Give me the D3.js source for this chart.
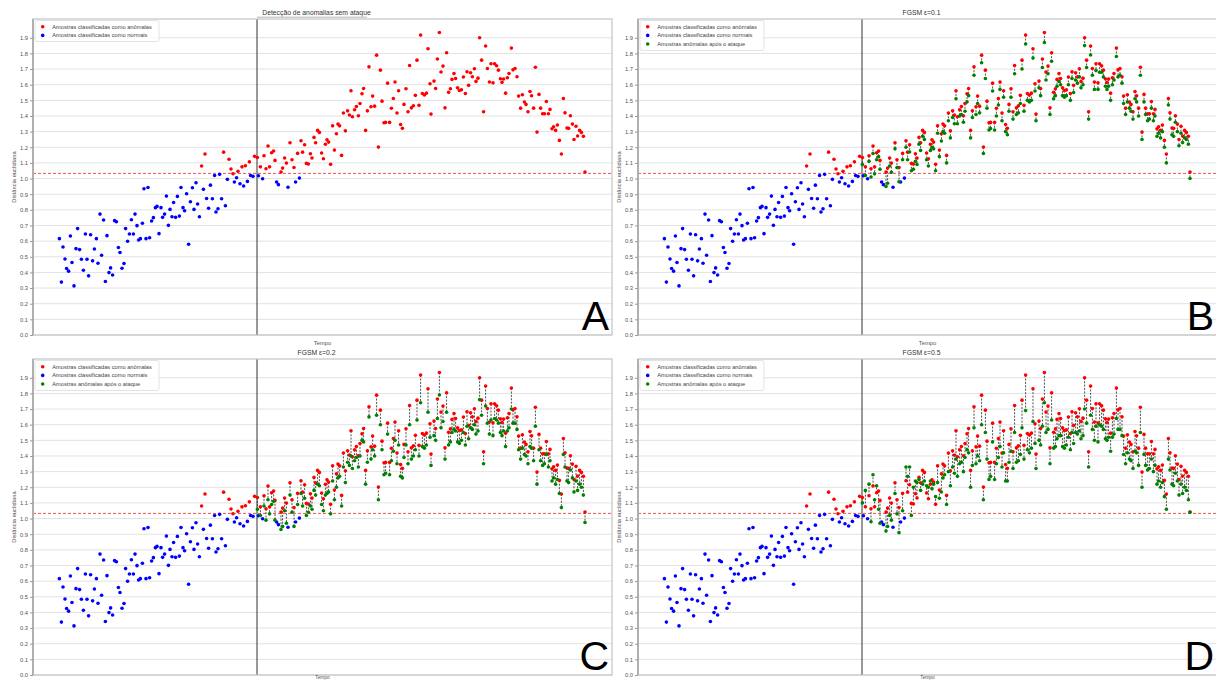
<!DOCTYPE html>
<html>
<head>
<meta charset="utf-8">
<script src="https://cdn.jsdelivr.net/npm/d3@7"></script>
<style>
  body { margin: 0; background: #fff; }
  svg { display: block; }
  text { font-family: "Liberation Sans", Arial, sans-serif; }
</style>
</head>
<body>
<svg id="chart" width="1216" height="680"></svg>
<script>
// ---- data: [tempo, distância euclidiana] ----
// samples the detector flags as normal
const normalSamples = [
  [13.2,0.616],[14.2,0.338],[15.0,0.563],[16.0,0.486],[16.8,0.425],[17.8,0.408],[18.7,0.633],[19.5,0.463],
  [20.5,0.314],[21.5,0.552],[22.3,0.680],[23.3,0.546],[24.2,0.484],[25.2,0.414],[26.2,0.646],[27.0,0.484],
  [27.8,0.378],[28.8,0.641],[29.8,0.474],[30.7,0.550],[31.7,0.616],[32.5,0.459],[33.5,0.773],[34.3,0.510],
  [35.3,0.735],[36.2,0.342],[37.0,0.635],[38.0,0.399],[38.8,0.429],[39.8,0.384],[40.8,0.731],[41.7,0.724],
  [42.7,0.559],[43.5,0.527],[44.5,0.427],[45.5,0.457],[46.3,0.680],[47.3,0.599],[48.2,0.646],[49.2,0.737],
  [50.2,0.646],[51.0,0.773],[52.0,0.699],[52.8,0.607],[53.7,0.616],[54.7,0.714],[55.5,0.935],[56.5,0.616],
  [57.5,0.943],[58.3,0.622],[59.3,0.729],[60.2,0.750],[61.2,0.814],[62.0,0.822],[63.0,0.648],[64.0,0.814],
  [64.8,0.752],[65.8,0.773],[66.7,0.888],[67.7,0.701],[68.5,0.803],[69.5,0.756],[70.3,0.847],[71.3,0.752],
  [72.2,0.886],[73.2,0.760],[74.0,0.943],[75.0,0.814],[75.8,0.794],[76.8,0.903],[77.8,0.580],[78.7,0.852],
  [79.7,0.941],[80.5,0.803],[81.5,0.973],[82.3,0.837],[83.2,0.756],[85.2,0.931],[86.8,0.873],[87.8,0.810],
  [88.7,0.958],[89.7,0.871],[90.8,1.020],[91.5,0.786],[92.5,0.807],[93.3,1.027],[94.3,0.871],[96.2,0.826],
  [97.2,0.995],[100.7,0.978],[101.8,1.005],[103.5,0.967],[105.3,0.952],[107.2,0.982],[108.8,1.020],[110.0,1.014],
  [112.7,1.018],[114.8,0.999],[121.8,0.978],[122.7,0.961],[127.5,0.944],[131.3,0.978],[133.2,1.003]
];

// samples the detector flags as anomalous
const anomalousSamples = [
  [84.3,1.080],[86.0,1.157],[95.3,1.169],[98.0,1.123],[99.0,1.061],[100.0,1.031],[102.5,1.046],[104.5,1.075],
  [106.2,1.082],[108.2,1.107],[110.8,1.142],[112.2,1.135],[113.7,1.075],[115.5,1.146],[116.5,1.063],[117.5,1.208],
  [118.3,1.075],[119.3,1.165],[120.3,1.176],[121.0,1.116],[124.0,1.042],[124.8,1.067],[125.8,1.131],[126.7,1.099],
  [128.5,1.229],[129.5,1.120],[130.5,1.071],[132.3,1.161],[134.0,1.242],[134.8,1.169],[135.8,1.216],[136.7,1.097],
  [137.7,1.093],[138.7,1.159],[139.5,1.131],[140.5,1.263],[141.3,1.229],[142.3,1.308],[143.2,1.295],[144.3,1.163],
  [145.2,1.127],[146.2,1.219],[147.0,1.248],[147.8,1.233],[148.8,1.091],[149.8,1.337],[150.7,1.182],[151.7,1.286],
  [152.5,1.348],[153.3,1.337],[154.3,1.148],[155.2,1.419],[156.2,1.305],[157.3,1.433],[158.2,1.406],[159.0,1.561],
  [159.7,1.395],[160.8,1.440],[161.7,1.461],[162.7,1.402],[163.5,1.480],[164.5,1.542],[165.3,1.576],[166.3,1.308],
  [167.2,1.433],[168.0,1.714],[169.0,1.459],[169.8,1.527],[170.8,1.463],[171.8,1.789],[172.7,1.201],[173.7,1.693],
  [174.5,1.495],[175.5,1.357],[176.3,1.359],[177.3,1.610],[178.3,1.359],[179.2,1.449],[180.2,1.512],[181.0,1.617],
  [182.0,1.419],[182.8,1.561],[183.8,1.346],[184.7,1.321],[185.5,1.474],[186.5,1.574],[187.5,1.427],[188.3,1.723],
  [189.2,1.452],[190.2,1.465],[191.2,1.532],[192.0,1.757],[193.0,1.468],[193.8,1.917],[194.7,1.544],[195.7,1.534],
  [196.7,1.546],[197.5,1.830],[198.5,1.606],[199.0,1.412],[200.5,1.623],[201.3,1.576],[202.2,1.764],[203.2,1.934],
  [204.0,1.681],[205.0,1.719],[206.0,1.452],[206.8,1.804],[207.8,1.551],[208.7,1.574],[209.5,1.634],[210.5,1.672],
  [211.3,1.640],[212.3,1.580],[213.2,1.563],[214.2,1.568],[215.2,1.649],[216.2,1.544],[217.0,1.683],[217.8,1.596],
  [218.8,1.676],[219.7,1.651],[220.7,1.702],[221.5,1.621],[222.5,1.642],[223.3,1.900],[224.3,1.757],[225.3,1.427],
  [226.3,1.847],[227.2,1.704],[228.2,1.617],[229.0,1.734],[230.0,1.612],[230.8,1.734],[231.8,1.721],[232.7,1.693],
  [233.7,1.638],[234.5,1.615],[235.3,1.636],[236.3,1.546],[237.2,1.644],[238.0,1.672],[239.2,1.834],[240.0,1.695],
  [241.0,1.704],[242.0,1.651],[242.8,1.527],[243.8,1.450],[244.7,1.536],[245.7,1.489],[246.5,1.474],[247.5,1.427],
  [248.5,1.557],[249.3,1.529],[250.3,1.450],[251.2,1.712],[252.0,1.297],[253.0,1.538],[253.8,1.450],[254.8,1.414],
  [255.7,1.414],[256.7,1.493],[257.7,1.414],[258.5,1.442],[259.5,1.318],[260.3,1.331],[261.3,1.308],[262.2,1.342],
  [263.2,1.244],[264.2,1.157],[265.2,1.512],[266.0,1.420],[267.0,1.323],[267.8,1.321],[268.7,1.402],[269.7,1.348],
  [270.5,1.250],[271.5,1.334],[272.3,1.272],[273.3,1.308],[274.2,1.295],[275.2,1.270],[276.0,1.042]
];

// distance of each anomalous sample in the attacked window (tempo > attackStart),
// in the same order, after the FGSM attack with each epsilon
const attackedEps01 = [
  1.09,1.02,1.11,1.01,1.16,1.03,1.12,1.14,1.06,0.95,0.97,1.08,1.04,1.19,1.07,0.98,1.12,1.20,1.12,1.17,
  1.05,1.06,1.11,1.09,1.22,1.18,1.27,1.25,1.12,1.08,1.18,1.20,1.19,1.05,1.29,1.14,1.24,1.30,1.29,1.10,
  1.37,1.26,1.39,1.35,1.51,1.35,1.40,1.41,1.36,1.43,1.49,1.53,1.26,1.39,1.66,1.41,1.48,1.42,1.74,1.16,
  1.64,1.45,1.31,1.32,1.56,1.31,1.40,1.47,1.57,1.37,1.52,1.30,1.28,1.43,1.52,1.38,1.67,1.41,1.42,1.48,
  1.70,1.43,1.86,1.50,1.49,1.50,1.77,1.56,1.37,1.58,1.53,1.71,1.87,1.63,1.67,1.41,1.75,1.51,1.53,1.59,
  1.62,1.60,1.53,1.52,1.53,1.60,1.50,1.64,1.55,1.63,1.61,1.65,1.58,1.60,1.85,1.71,1.38,1.79,1.66,1.57,
  1.69,1.57,1.68,1.68,1.65,1.59,1.57,1.59,1.50,1.60,1.63,1.78,1.65,1.66,1.61,1.48,1.41,1.49,1.45,1.43,
  1.38,1.51,1.49,1.40,1.66,1.25,1.49,1.41,1.37,1.38,1.45,1.37,1.40,1.27,1.29,1.26,1.30,1.20,1.10,1.47,
  1.38,1.28,1.27,1.36,1.30,1.21,1.29,1.23,1.26,1.25,1.22,1.00
];
const attackedEps02 = [
  1.06,1.02,1.08,0.99,1.12,1.03,1.09,1.11,0.99,0.93,0.95,1.05,0.97,1.15,1.04,0.95,1.09,1.16,1.08,1.13,
  1.02,1.04,1.08,1.06,1.18,1.15,1.22,1.21,1.09,1.05,1.15,1.16,1.17,1.03,1.24,1.12,1.20,1.26,1.27,1.08,
  1.33,1.23,1.36,1.34,1.40,1.32,1.37,1.39,1.33,1.40,1.50,1.49,1.22,1.36,1.65,1.38,1.44,1.40,1.66,1.12,
  1.60,1.44,1.28,1.29,1.54,1.28,1.37,1.43,1.50,1.35,1.47,1.27,1.26,1.39,1.47,1.35,1.60,1.38,1.40,1.44,
  1.63,1.40,1.74,1.46,1.45,1.47,1.68,1.52,1.34,1.53,1.50,1.64,1.79,1.58,1.62,1.38,1.68,1.47,1.49,1.55,
  1.57,1.56,1.49,1.48,1.50,1.55,1.47,1.59,1.51,1.58,1.57,1.60,1.54,1.56,1.76,1.66,1.35,1.72,1.61,1.54,
  1.63,1.53,1.64,1.63,1.61,1.55,1.53,1.56,1.46,1.56,1.58,1.70,1.61,1.61,1.57,1.44,1.38,1.45,1.41,1.40,
  1.35,1.46,1.45,1.37,1.59,1.22,1.44,1.37,1.34,1.35,1.41,1.33,1.37,1.24,1.26,1.22,1.25,1.16,1.07,1.41,
  1.33,1.24,1.23,1.31,1.26,1.17,1.24,1.18,1.22,1.20,1.15,0.975
];
const attackedEps05 = [
  1.10,1.18,1.22,0.98,1.28,1.12,1.21,1.06,0.97,0.92,0.95,1.02,0.99,1.16,1.03,0.91,1.05,1.33,1.27,1.33,
  1.02,1.20,1.24,1.23,1.25,1.18,1.22,1.24,1.21,1.20,1.24,1.19,1.22,1.14,1.23,1.13,1.17,1.26,1.28,1.09,
  1.30,1.21,1.33,1.29,1.38,1.27,1.35,1.36,1.30,1.39,1.44,1.42,1.20,1.34,1.58,1.35,1.40,1.37,1.60,1.12,
  1.55,1.38,1.25,1.27,1.49,1.25,1.35,1.39,1.46,1.33,1.42,1.24,1.24,1.36,1.43,1.32,1.55,1.36,1.37,1.41,
  1.58,1.38,1.69,1.44,1.42,1.45,1.62,1.48,1.32,1.50,1.47,1.59,1.74,1.55,1.57,1.35,1.63,1.45,1.46,1.51,
  1.53,1.53,1.46,1.45,1.47,1.52,1.44,1.55,1.48,1.55,1.54,1.56,1.51,1.53,1.70,1.61,1.33,1.66,1.57,1.50,
  1.59,1.49,1.60,1.59,1.57,1.51,1.50,1.52,1.43,1.52,1.54,1.64,1.57,1.57,1.53,1.41,1.35,1.42,1.38,1.37,
  1.32,1.43,1.42,1.34,1.55,1.20,1.41,1.34,1.31,1.32,1.38,1.30,1.34,1.22,1.24,1.20,1.23,1.14,1.06,1.38,
  1.31,1.22,1.21,1.29,1.24,1.15,1.22,1.16,1.20,1.18,1.12,1.04
];

const panelTitles = ["Detecção de anomalias sem ataque", "FGSM ε=0.1", "FGSM ε=0.2", "FGSM ε=0.5"];
const panelLetters = ["A", "B", "C", "D"];
const legendLabels = [
  "Amostras classificadas como anômalas",
  "Amostras classificadas como normais",
  "Amostras anômalas após o ataque"
];
const yTickValues = [0.0,0.1,0.2,0.3,0.4,0.5,0.6,0.7,0.8,0.9,1.0,1.1,1.2,1.3,1.4,1.5,1.6,1.7,1.8,1.9];
const tempoDomain = [0, 289.5];
const distanceDomain = [0, 2.02];
const attackStart = 112;     // start of the attacked window
const threshold = 1.033;     // detection threshold
const xLabel = "Tempo";
const yLabel = "Distância euclidiana";

// ---- layout ----
const W = 579, H = 316;
const panels = [
  { left: 33,  top: 19,  attacked: null,          xLabelY: H + 10,  xLabelSize: 5.8 },
  { left: 638, top: 19,  attacked: attackedEps01, xLabelY: H + 10,  xLabelSize: 5.8 },
  { left: 33,  top: 359, attacked: attackedEps02, xLabelY: H + 3.6, xLabelSize: 4.8 },
  { left: 638, top: 359, attacked: attackedEps05, xLabelY: H + 3.6, xLabelSize: 4.8 }
];
const RED = "#ff0000", BLUE = "#0000ff", GREEN = "#008000";

const svg = d3.select("#chart");
const x = d3.scaleLinear().domain(tempoDomain).range([0, W]);
const y = d3.scaleLinear().domain(distanceDomain).range([H, 0]);
const attackWindow = anomalousSamples.filter(d => d[0] > attackStart);

panels.forEach((p, i) => {
  const g = svg.append("g").attr("transform", `translate(${p.left},${p.top})`);

  // horizontal grid
  g.append("g").selectAll("line").data(yTickValues).join("line")
    .attr("x1", 0).attr("x2", W)
    .attr("y1", d => y(d)).attr("y2", d => y(d))
    .attr("stroke", "#e2e2e2").attr("stroke-width", 1);

  // detection threshold
  g.append("line")
    .attr("x1", 0).attr("x2", W)
    .attr("y1", y(threshold)).attr("y2", y(threshold))
    .attr("stroke", "#e8413c").attr("stroke-width", 0.9)
    .attr("stroke-dasharray", "3,2");

  // start of the attack window
  g.append("line")
    .attr("x1", x(attackStart)).attr("x2", x(attackStart))
    .attr("y1", 0).attr("y2", H)
    .attr("stroke", "#333").attr("stroke-width", 1);

  // pair each attacked distance with its original sample
  const pairs = p.attacked
    ? attackWindow.map((d, k) => ({ t: d[0], before: d[1], after: p.attacked[k] }))
    : [];

  // dashed links from each anomalous sample to its attacked version
  g.append("g").selectAll("line").data(pairs).join("line")
    .attr("x1", d => x(d.t)).attr("x2", d => x(d.t))
    .attr("y1", d => y(d.before)).attr("y2", d => y(d.after))
    .attr("stroke", "#222").attr("stroke-width", 0.8)
    .attr("stroke-dasharray", "2,1.4");

  const dots = (data, color) => g.append("g").selectAll("circle").data(data).join("circle")
    .attr("cx", d => x(d[0])).attr("cy", d => y(d[1]))
    .attr("r", 1.8).attr("fill", color);
  dots(anomalousSamples, RED);
  dots(normalSamples, BLUE);
  dots(pairs.map(d => [d.t, d.after]), GREEN);

  // frame
  g.append("rect").attr("x", 0).attr("y", 0).attr("width", W).attr("height", H)
    .attr("fill", "none").attr("stroke", "#c4c4c4").attr("stroke-width", 1.2);
  g.append("line").attr("x1", 0).attr("x2", 0).attr("y1", 0).attr("y2", H)
    .attr("stroke", "#b0b0b0").attr("stroke-width", 2);

  // y axis
  const ax = g.append("g").call(
    d3.axisLeft(y).tickValues(yTickValues).tickSize(3).tickPadding(2).tickFormat(d3.format(".1f"))
  );
  ax.select(".domain").remove();
  ax.selectAll(".tick line").attr("stroke", "#999");
  ax.selectAll(".tick text").attr("fill", "#555").attr("font-size", 5.8)
    .attr("font-family", "Liberation Sans, Arial, sans-serif");

  // title
  g.append("text").attr("x", W / 2 - 6).attr("y", -4).attr("text-anchor", "middle")
    .attr("font-size", 6.8).attr("fill", "#333").text(panelTitles[i]);
  if (i === 0) {
    g.append("line").attr("x1", x(attackStart)).attr("x2", x(attackStart) + 110)
      .attr("y1", -1.8).attr("y2", -1.8).attr("stroke", "#d0d0d0").attr("stroke-width", 1.4);
  }

  // axis labels
  g.append("text").attr("x", W / 2).attr("y", p.xLabelY).attr("text-anchor", "middle")
    .attr("font-size", p.xLabelSize).attr("fill", "#555").text(xLabel);
  g.append("text").attr("transform", `translate(-17,${H / 2}) rotate(-90)`)
    .attr("text-anchor", "middle").attr("font-size", 5.8).attr("fill", "#555").text(yLabel);

  // legend
  const rows = p.attacked ? 3 : 2;
  const lg = g.append("g").attr("transform", "translate(2,1.5)");
  lg.append("rect").attr("width", 124).attr("height", rows === 3 ? 30 : 21)
    .attr("rx", 2).attr("fill", "#fff").attr("fill-opacity", 0.85)
    .attr("stroke", "#dcdcdc").attr("stroke-width", 0.8);
  const colors = [RED, BLUE, GREEN];
  for (let r = 0; r < rows; r++) {
    lg.append("circle").attr("cx", 7.7).attr("cy", 6.3 + r * 8.6).attr("r", 1.8).attr("fill", colors[r]);
    lg.append("text").attr("x", 17.3).attr("y", 8.3 + r * 8.6)
      .attr("font-size", 5.7).attr("fill", "#444").text(legendLabels[r]);
  }

  // panel letter
  g.append("text").attr("x", W - 3).attr("y", H - 5).attr("text-anchor", "end")
    .attr("font-family", "DejaVu Sans, sans-serif").attr("font-size", 41)
    .attr("fill", "#000").text(panelLetters[i]);
});
</script>
</body>
</html>
